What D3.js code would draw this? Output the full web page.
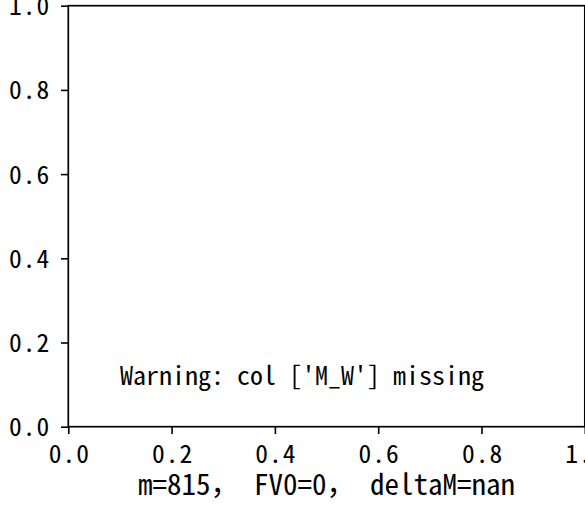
<!DOCTYPE html>
<html>
<head>
<meta charset="utf-8">
<script src="https://cdn.jsdelivr.net/npm/d3@7"></script>
<style>
  body { margin: 0; background: #fff; }
  svg  { display: block; }
  text { font-family: "Noto Sans Mono CJK SC", "Noto Sans CJK SC", "Liberation Mono", monospace; fill: #000; }
  .domain { display: none; }
</style>
</head>
<body>
<svg width="585" height="508"></svg>
<script>
// tick values and texts
const xTicks    = [0, 0.2, 0.4, 0.6, 0.8, 1.0];
const yTicks    = [0, 0.2, 0.4, 0.6, 0.8, 1.0];
const xLabel    = "m=815， FV0=0， deltaM=nan";
const noteText  = "Warning: col ['M_W'] missing";
const notePos   = [0.1, 0.1];   // axes fraction

let svg     = d3.select("svg"),
    axLeft  = 68.3,
    axRight = 584.8,
    axTop   = 5.7,
    axBot   = 426.7,
    x       = d3.scaleLinear().domain([0, 1]).range([axLeft, axRight]),
    y       = d3.scaleLinear().domain([0, 1]).range([axBot, axTop]),
    fmt     = d3.format(".1f");

// x axis
let gx = svg.append("g")
  .attr("transform", `translate(0,${axBot})`)
  .call(d3.axisBottom(x).tickValues(xTicks).tickFormat(fmt).tickSize(7.3).tickPadding(7));
gx.selectAll(".tick line").attr("stroke", "#000").attr("stroke-width", 1.6);
gx.selectAll(".tick text")
  .attr("font-size", 25.5)
  .attr("letter-spacing", 1)
  .attr("dy", null)
  .attr("x", 0.5)
  .attr("y", 36);

// y axis
let gy = svg.append("g")
  .attr("transform", `translate(${axLeft},0)`)
  .call(d3.axisLeft(y).tickValues(yTicks).tickFormat(fmt).tickSize(7.3).tickPadding(7));
gy.selectAll(".tick line").attr("stroke", "#000").attr("stroke-width", 1.6);
gy.selectAll(".tick text")
  .attr("font-size", 25.5)
  .attr("letter-spacing", 1)
  .attr("dy", null)
  .attr("x", -18)
  .attr("y", 9);

// spines
svg.append("rect")
  .attr("x", axLeft)
  .attr("y", axTop)
  .attr("width", axRight - axLeft)
  .attr("height", axBot - axTop)
  .attr("fill", "none")
  .attr("stroke", "#000")
  .attr("stroke-width", 1.7);

// warning note inside the axes
svg.append("text")
  .attr("x", x(notePos[0]))
  .attr("y", y(notePos[1]))
  .attr("font-size", 26)
  .text(noteText);

// x label
svg.append("text")
  .attr("x", (axLeft + axRight) / 2)
  .attr("y", 495)
  .attr("text-anchor", "middle")
  .attr("font-size", 29)
  .text(xLabel);
</script>
</body>
</html>
